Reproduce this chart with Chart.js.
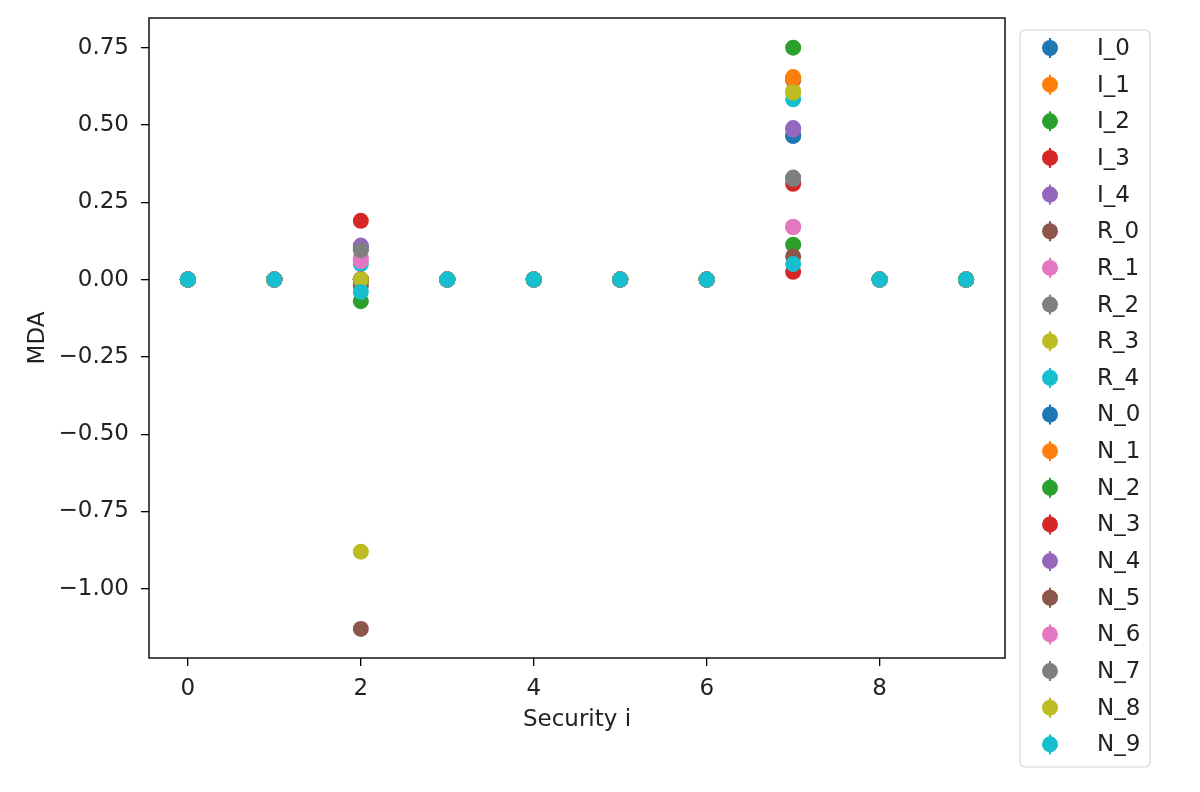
<!DOCTYPE html>
<html>
<head>
<meta charset="utf-8">
<script src="https://cdn.jsdelivr.net/npm/chart.js@4.4.1/dist/chart.umd.min.js"></script>
<style>
  html, body { margin: 0; padding: 0; background: #fff; }
  #wrap { width: 1200px; height: 792px; }
</style>
</head>
<body>
<div id="wrap"><canvas id="myChart" width="1200" height="792"></canvas></div>
<script>
// x positions (security index)
const securities = [0, 1, 2, 3, 4, 5, 6, 7, 8, 9];

// MDA per security, one array per series
const I_0 = [0, 0, 0, 0, 0, 0, 0, 0.465, 0, 0];
const I_1 = [0, 0, 0, 0, 0, 0, 0, 0.655, 0, 0];
const I_2 = [0, 0, -0.07, 0, 0, 0, 0, 0.75, 0, 0];
const I_3 = [0, 0, 0.19, 0, 0, 0, 0, 0.31, 0, 0];
const I_4 = [0, 0, 0.11, 0, 0, 0, 0, 0.49, 0, 0];
const R_0 = [0, 0, -1.13, 0, 0, 0, 0, 0.645, 0, 0];
const R_1 = [0, 0, 0.07, 0, 0, 0, 0, 0.17, 0, 0];
const R_2 = [0, 0, 0.10, 0, 0, 0, 0, 0.33, 0, 0];
const R_3 = [0, 0, -0.88, 0, 0, 0, 0, 0.61, 0, 0];
const R_4 = [0, 0, 0.05, 0, 0, 0, 0, 0.583, 0, 0];
const N_0 = [0, 0, 0, 0, 0, 0, 0, 0.465, 0, 0];
const N_1 = [0, 0, 0, 0, 0, 0, 0, 0.65, 0, 0];
const N_2 = [0, 0, 0, 0, 0, 0, 0, 0.113, 0, 0];
const N_3 = [0, 0, 0, 0, 0, 0, 0, 0.025, 0, 0];
const N_4 = [0, 0, 0.105, 0, 0, 0, 0, 0.485, 0, 0];
const N_5 = [0, 0, -0.02, 0, 0, 0, 0, 0.075, 0, 0];
const N_6 = [0, 0, 0.06, 0, 0, 0, 0, 0.17, 0, 0];
const N_7 = [0, 0, 0.095, 0, 0, 0, 0, 0.325, 0, 0];
const N_8 = [0, 0, 0.0, 0, 0, 0, 0, 0.605, 0, 0];
const N_9 = [0, 0, -0.04, 0, 0, 0, 0, 0.05, 0, 0];

const seriesNames = ['I_0', 'I_1', 'I_2', 'I_3', 'I_4', 'R_0', 'R_1', 'R_2', 'R_3', 'R_4',
  'N_0', 'N_1', 'N_2', 'N_3', 'N_4', 'N_5', 'N_6', 'N_7', 'N_8', 'N_9'];
const seriesValues = [I_0, I_1, I_2, I_3, I_4, R_0, R_1, R_2, R_3, R_4,
  N_0, N_1, N_2, N_3, N_4, N_5, N_6, N_7, N_8, N_9];

const xTicks = [0, 2, 4, 6, 8];
const yTicks = [-1.00, -0.75, -0.50, -0.25, 0.00, 0.25, 0.50, 0.75];

// matplotlib tab10 cycle
const palette = ['#1f77b4', '#ff7f0e', '#2ca02c', '#d62728', '#9467bd',
  '#8c564b', '#e377c2', '#7f7f7f', '#bcbd22', '#17becf'];

const FONT = 'DejaVu Sans';
const FSIZE = 23;
const TEXT = '#222';

const datasets = seriesNames.map(function (name, i) {
  return {
    label: name,
    data: securities.map(function (x, j) { return { x: x, y: seriesValues[i][j] }; }),
    backgroundColor: palette[i % 10],
    borderWidth: 0,
    pointRadius: 8,
    pointHoverRadius: 8,
    order: seriesNames.length - i // later series drawn on top, like matplotlib
  };
});

// frame around the plot area
const framePlugin = {
  id: 'frame',
  afterDatasetsDraw(chart) {
    const a = chart.chartArea;
    const ctx = chart.ctx;
    ctx.save();
    ctx.strokeStyle = '#000';
    ctx.lineWidth = 1.4;
    ctx.strokeRect(a.left, a.top, a.right - a.left, a.bottom - a.top);
    ctx.restore();
  }
};

// matplotlib style legend box on the right
const legendPlugin = {
  id: 'mplLegend',
  afterDraw(chart) {
    const ctx = chart.ctx;
    const boxX = 1020, boxY = 30, boxW = 130, boxH = 737;
    ctx.save();
    ctx.beginPath();
    ctx.roundRect(boxX, boxY, boxW, boxH, 5);
    ctx.fillStyle = 'rgba(255,255,255,0.8)';
    ctx.fill();
    ctx.strokeStyle = '#d6d6d6';
    ctx.lineWidth = 1.2;
    ctx.stroke();
    ctx.font = FSIZE + 'px "' + FONT + '"';
    ctx.textBaseline = 'middle';
    chart.data.datasets.forEach(function (ds, i) {
      const cy = 48 + i * 36.65;
      const cx = 1050;
      ctx.strokeStyle = ds.backgroundColor;
      ctx.lineWidth = 2.2;
      ctx.beginPath();
      ctx.moveTo(cx, cy - 10);
      ctx.lineTo(cx, cy + 10);
      ctx.stroke();
      ctx.fillStyle = ds.backgroundColor;
      ctx.beginPath();
      ctx.arc(cx, cy, 8, 0, Math.PI * 2);
      ctx.fill();
      ctx.fillStyle = TEXT;
      ctx.fillText(ds.label, 1097, cy + 1);
    });
    ctx.restore();
  }
};

const ctx1 = document.getElementById('myChart').getContext('2d');
const config = {
  type: 'scatter',
  data: { datasets: datasets },
  options: {
    responsive: false,
    animation: false,
    devicePixelRatio: 1,
    layout: { padding: { left: 0, top: 18, right: 195, bottom: 0 } },
    plugins: {
      legend: { display: false },
      tooltip: { enabled: false }
    },
    scales: {
      x: {
        type: 'linear',
        min: -0.45,
        max: 9.45,
        afterBuildTicks: function (scale) {
          scale.ticks = xTicks.map(function (v) { return { value: v }; });
        },
        afterFit: function (scale) {
          scale.height = 134;
          scale.paddingLeft = 0;
          scale.paddingRight = 0;
        },
        grid: { drawOnChartArea: false, drawTicks: true, tickLength: 8, color: '#000', lineWidth: 1.3 },
        border: { display: false },
        ticks: {
          padding: 9,
          color: TEXT,
          font: { family: FONT, size: FSIZE },
          maxRotation: 0,
          callback: function (v) { return String(v); }
        },
        title: {
          display: true,
          text: 'Security i',
          color: TEXT,
          font: { family: FONT, size: FSIZE },
          padding: { top: 0, bottom: 58 }
        }
      },
      y: {
        type: 'linear',
        min: -1.224,
        max: 0.846,
        afterBuildTicks: function (scale) {
          scale.ticks = yTicks.map(function (v) { return { value: v }; });
        },
        afterFit: function (scale) {
          scale.width = 149;
          scale.paddingTop = 0;
          scale.paddingBottom = 0;
        },
        grid: { drawOnChartArea: false, drawTicks: true, tickLength: 8, color: '#000', lineWidth: 1.3 },
        border: { display: false },
        ticks: {
          padding: 12,
          color: TEXT,
          font: { family: FONT, size: FSIZE },
          callback: function (v) { return v.toFixed(2).replace('-', '\u2212'); }
        },
        title: {
          display: true,
          text: 'MDA',
          color: TEXT,
          font: { family: FONT, size: FSIZE },
          padding: { top: 24, bottom: 0 }
        }
      }
    }
  },
  plugins: [framePlugin, legendPlugin]
};
const myChart = new Chart(ctx1, config);
</script>
</body>
</html>
